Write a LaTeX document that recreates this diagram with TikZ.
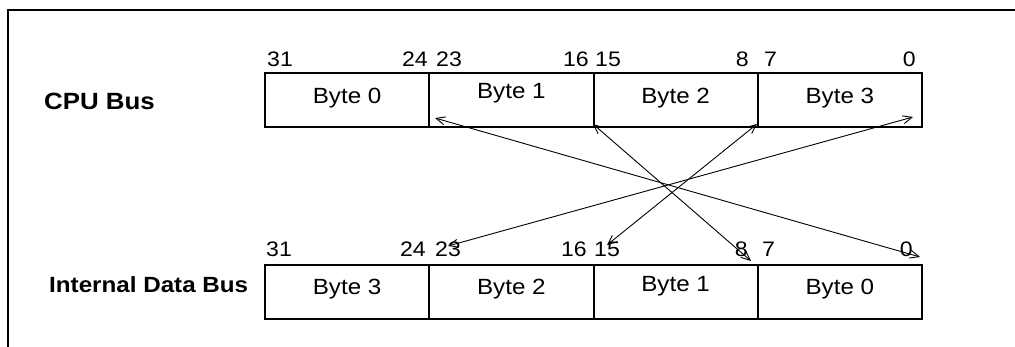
\documentclass[tikz,border=0pt]{standalone}
\usepackage{fontspec}
\usepackage{graphicx}
\setmainfont{Liberation Sans}
\newcommand{\widetxt}[1]{\scalebox{1.1}[1]{#1}}
\usetikzlibrary{arrows.meta}
\begin{document}
\begin{tikzpicture}[x=1pt,y=-1pt,
  cell/.style={draw,line width=1.8pt,minimum width=164pt,minimum height=54pt,inner sep=0pt,outer sep=0pt},
  bytetxt/.style={anchor=base,inner sep=0pt,font=\fontsize{22}{26}\selectfont},
  num/.style={anchor=base,inner sep=0pt,font=\fontsize{21}{25}\selectfont},
  buslbl/.style={anchor=base west,inner sep=0pt,font=\fontsize{22}{26}\selectfont\bfseries},
  conn/.style={line width=0.9pt,{Straight Barb[length=9pt,width=8pt]}-{Straight Barb[length=9pt,width=8pt]}}]
\useasboundingbox (0,0) rectangle (1015,347);
% frame
\draw[line width=2.4pt] (8,350) -- (8,10) -- (1020,10);
% CPU bus cells
\node[cell] (c0) at (347.1,100) {};
\node[cell] (c1) at (511.4,100) {};
\node[cell] (c2) at (675.6,100) {};
\node[cell] (c3) at (839.9,100) {};
% Internal bus cells
\node[cell] (i0) at (347.1,292) {};
\node[cell] (i1) at (511.4,292) {};
\node[cell] (i2) at (675.6,292) {};
\node[cell] (i3) at (839.9,292) {};
% byte texts
\node[bytetxt] (tc0) at (347.1,104) {\widetxt{Byte 0}};
\node[bytetxt] (tc1) at (511.4,99) {\widetxt{Byte 1}};
\node[bytetxt] (tc2) at (675.6,104) {\widetxt{Byte 2}};
\node[bytetxt] (tc3) at (839.9,104) {\widetxt{Byte 3}};
\node[bytetxt] (ti0) at (347.1,295) {\widetxt{Byte 3}};
\node[bytetxt] (ti1) at (511.4,295) {\widetxt{Byte 2}};
\node[bytetxt] (ti2) at (675.6,292) {\widetxt{Byte 1}};
\node[bytetxt] (ti3) at (839.9,295) {\widetxt{Byte 0}};
% bus labels
\node[buslbl,font=\fontsize{23.5}{27}\selectfont\bfseries] (lcpu) at (44,110) {\widetxt{CPU Bus}};
\node[buslbl] (lint) at (49,293) {\widetxt{Internal Data Bus}};
% bit numbers top
\node[num,anchor=base west] (n31) at (267,66.5) {\widetxt{31}};
\node[num,anchor=base east] (n24) at (428,66.5) {\widetxt{24}};
\node[num,anchor=base west] (n23) at (436,66.5) {\widetxt{23}};
\node[num,anchor=base east] (n16) at (589,66.5) {\widetxt{16}};
\node[num,anchor=base west] (n15) at (595,66.5) {\widetxt{15}};
\node[num,anchor=base east] (n8) at (749,66.5) {\widetxt{8}};
\node[num,anchor=base west] (n7) at (764,66.5) {\widetxt{7}};
\node[num,anchor=base east] (n0) at (916,66.5) {\widetxt{0}};
% bit numbers bottom
\node[num,anchor=base west] (m31) at (266,257) {\widetxt{31}};
\node[num,anchor=base east] (m24) at (426,257) {\widetxt{24}};
\node[num,anchor=base west] (m23) at (435,257) {\widetxt{23}};
\node[num,anchor=base east] (m16) at (587,257) {\widetxt{16}};
\node[num,anchor=base west] (m15) at (594,257) {\widetxt{15}};
\node[num,anchor=base east] (m8) at (748,257) {\widetxt{8}};
\node[num,anchor=base west] (m7) at (762,257) {\widetxt{7}};
\node[num,anchor=base east] (m0) at (913,257) {\widetxt{0}};
% arrow end points
\coordinate (a1) at (435,118);
\coordinate (b1) at (920,257);
\coordinate (a2) at (593,124);
\coordinate (b2) at (751,261);
\coordinate (a3) at (757,124);
\coordinate (b3) at (607,245);
\coordinate (a4) at (913,117);
\coordinate (b4) at (448,246);
\draw[conn] (a1) -- (b1);
\draw[conn] (a2) -- (b2);
\draw[conn] (a3) -- (b3);
\draw[conn] (a4) -- (b4);
\end{tikzpicture}
\end{document}
